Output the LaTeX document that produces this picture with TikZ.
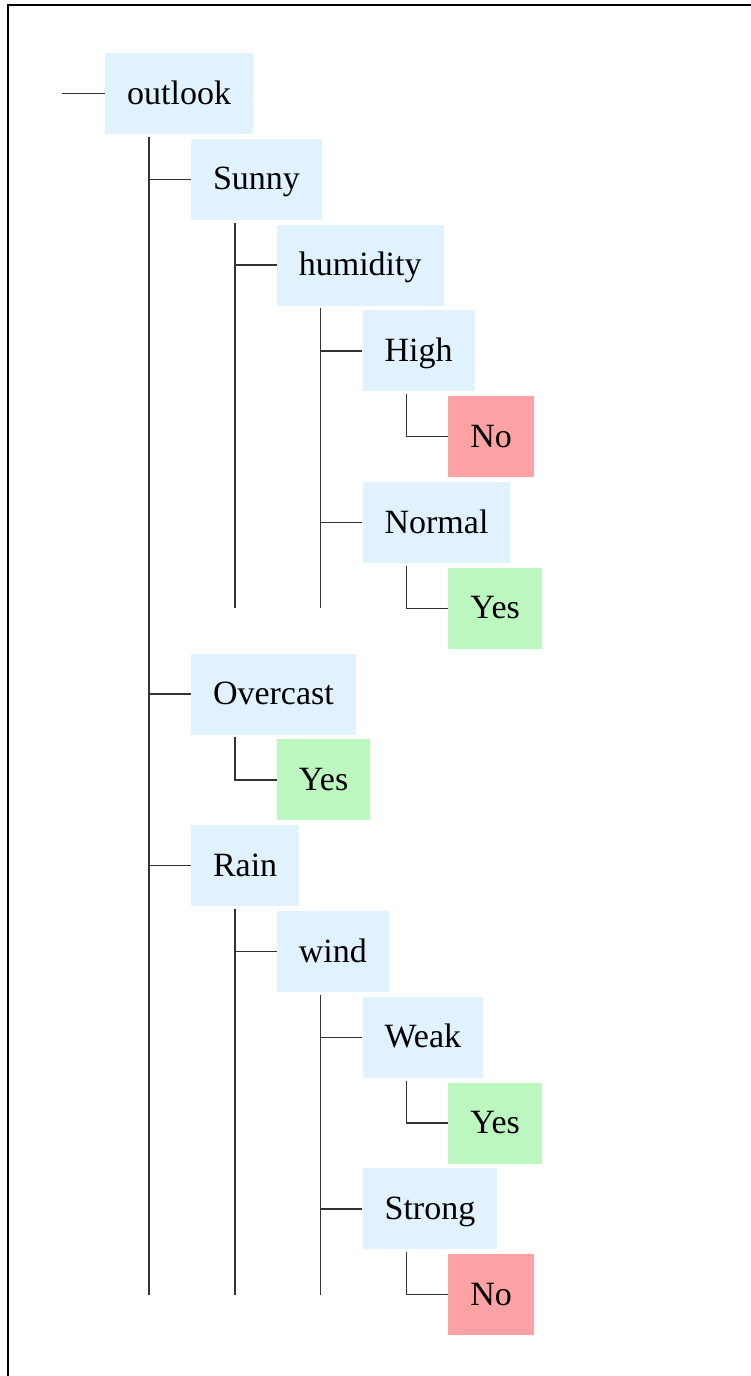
\documentclass[tikz,border=0pt]{standalone}
\usepackage{fontspec}
\setmainfont{Liberation Serif}
\definecolor{attrbg}{RGB}{224,242,254}
\definecolor{yesbg}{RGB}{187,247,190}
\definecolor{nobg}{RGB}{252,162,164}
\definecolor{edgecol}{RGB}{51,51,51}
\tikzset{
  box/.style={anchor=west, minimum height=81pt, inner xsep=22pt, inner ysep=0pt,
    text height=28pt, text depth=7pt, text=black, font=\fontsize{34pt}{40pt}\selectfont},
  attr/.style={box, fill=attrbg},
  yesleaf/.style={box, fill=yesbg},
  noleaf/.style={box, fill=nobg},
  link/.style={draw=edgecol, line width=1.5pt},
}
\begin{document}
\begin{tikzpicture}[x=1pt, y=-1pt]
  \useasboundingbox (0,0) rectangle (751,1376);
  % frame
  \draw[line width=2.5pt] (8,1380) -- (8,5.2) -- (755,5.2);

  % tree nodes, one per row
  \node[attr]    (outlook)  at (105,   93.5)  {outlook};
  \node[attr]    (sunny)    at (190.8, 179.3) {Sunny};
  \node[attr]    (humidity) at (276.6, 265.1) {humidity};
  \node[attr]    (high)     at (362.4, 350.9) {High};
  \node[noleaf]  (no1)      at (448.2, 436.7) {No};
  \node[attr]    (normal)   at (362.4, 522.5) {Normal};
  \node[yesleaf] (yes1)     at (448.2, 608.3) {Yes};
  \node[attr]    (overcast) at (190.8, 694.1) {Overcast};
  \node[yesleaf] (yes2)     at (276.6, 779.9) {Yes};
  \node[attr]    (rain)     at (190.8, 865.7) {Rain};
  \node[attr]    (wind)     at (276.6, 951.5) {wind};
  \node[attr]    (weak)     at (362.4,1037.3) {Weak};
  \node[yesleaf] (yes3)     at (448.2,1123.1) {Yes};
  \node[attr]    (strong)   at (362.4,1208.9) {Strong};
  \node[noleaf]  (no2)      at (448.2,1294.7) {No};

  % trunk points below each parent
  \foreach \p in {outlook,sunny,humidity,high,normal,overcast,rain,wind,weak,strong}
    \coordinate (t\p) at ([xshift=44pt,yshift=-2.5pt]\p.south west);

  % root stub
  \coordinate (rootstub) at (62,93.5);
  \draw[link] (rootstub) -- (outlook.west);

  % outlook
  \draw[link] (toutlook) -- (toutlook |- no2.west);
  \foreach \c in {sunny,overcast,rain}
    \draw[link] (toutlook |- \c.west) -- (\c.west);

  % sunny
  \draw[link] (tsunny) -- (tsunny |- yes1.west);
  \draw[link] (tsunny |- humidity.west) -- (humidity.west);

  % humidity
  \draw[link] (thumidity) -- (thumidity |- yes1.west);
  \foreach \c in {high,normal}
    \draw[link] (thumidity |- \c.west) -- (\c.west);

  % single-child branches
  \draw[link] (thigh) |- (no1.west);
  \draw[link] (tnormal) |- (yes1.west);
  \draw[link] (tovercast) |- (yes2.west);
  \draw[link] (tweak) |- (yes3.west);
  \draw[link] (tstrong) |- (no2.west);

  % rain
  \draw[link] (train) -- (train |- no2.west);
  \draw[link] (train |- wind.west) -- (wind.west);

  % wind
  \draw[link] (twind) -- (twind |- no2.west);
  \foreach \c in {weak,strong}
    \draw[link] (twind |- \c.west) -- (\c.west);
\end{tikzpicture}
\end{document}
